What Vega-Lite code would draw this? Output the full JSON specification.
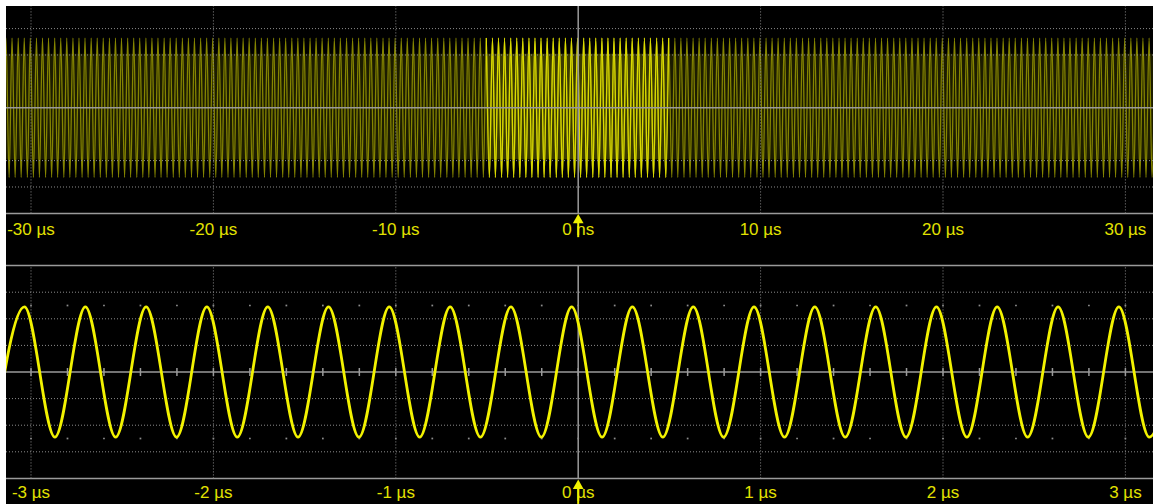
{
"$schema":"https://vega.github.io/schema/vega-lite/v6.json",
"width":1147,"height":498,
"autosize":{"type":"none"},
"padding":{"left":6,"top":6,"right":0,"bottom":0},
"background":"#ffffff",
"config":{"view":{"fill":"#000000","stroke":null}},
"datasets":{
"topw":[{"t":-31.54,"v":-2.64},{"t":-31.37,"v":2.64},{"t":-31.2,"v":-2.64},
{"t":-31.04,"v":2.64},{"t":-30.87,"v":-2.64},{"t":-30.7,"v":2.64},{"t":-30.54,"v":-2.64},{"t":-30.37,"v":2.64},{"t":-30.2,"v":-2.64},
{"t":-30.04,"v":2.64},{"t":-29.87,"v":-2.64},{"t":-29.7,"v":2.64},{"t":-29.54,"v":-2.64},{"t":-29.37,"v":2.64},{"t":-29.2,"v":-2.64},
{"t":-29.04,"v":2.64},{"t":-28.87,"v":-2.64},{"t":-28.7,"v":2.64},{"t":-28.54,"v":-2.64},{"t":-28.37,"v":2.64},{"t":-28.2,"v":-2.64},
{"t":-28.04,"v":2.64},{"t":-27.87,"v":-2.64},{"t":-27.7,"v":2.64},{"t":-27.54,"v":-2.64},{"t":-27.37,"v":2.64},{"t":-27.2,"v":-2.64},
{"t":-27.04,"v":2.64},{"t":-26.87,"v":-2.64},{"t":-26.7,"v":2.64},{"t":-26.54,"v":-2.64},{"t":-26.37,"v":2.64},{"t":-26.2,"v":-2.64},
{"t":-26.04,"v":2.64},{"t":-25.87,"v":-2.64},{"t":-25.7,"v":2.64},{"t":-25.54,"v":-2.64},{"t":-25.37,"v":2.64},{"t":-25.2,"v":-2.64},
{"t":-25.04,"v":2.64},{"t":-24.87,"v":-2.64},{"t":-24.7,"v":2.64},{"t":-24.54,"v":-2.64},{"t":-24.37,"v":2.64},{"t":-24.2,"v":-2.64},
{"t":-24.04,"v":2.64},{"t":-23.87,"v":-2.64},{"t":-23.7,"v":2.64},{"t":-23.54,"v":-2.64},{"t":-23.37,"v":2.64},{"t":-23.2,"v":-2.64},
{"t":-23.04,"v":2.64},{"t":-22.87,"v":-2.64},{"t":-22.7,"v":2.64},{"t":-22.54,"v":-2.64},{"t":-22.37,"v":2.64},{"t":-22.2,"v":-2.64},
{"t":-22.04,"v":2.64},{"t":-21.87,"v":-2.64},{"t":-21.7,"v":2.64},{"t":-21.54,"v":-2.64},{"t":-21.37,"v":2.64},{"t":-21.2,"v":-2.64},
{"t":-21.04,"v":2.64},{"t":-20.87,"v":-2.64},{"t":-20.7,"v":2.64},{"t":-20.54,"v":-2.64},{"t":-20.37,"v":2.64},{"t":-20.2,"v":-2.64},
{"t":-20.04,"v":2.64},{"t":-19.87,"v":-2.64},{"t":-19.7,"v":2.64},{"t":-19.54,"v":-2.64},{"t":-19.37,"v":2.64},{"t":-19.2,"v":-2.64},
{"t":-19.04,"v":2.64},{"t":-18.87,"v":-2.64},{"t":-18.7,"v":2.64},{"t":-18.54,"v":-2.64},{"t":-18.37,"v":2.64},{"t":-18.2,"v":-2.64},
{"t":-18.04,"v":2.64},{"t":-17.87,"v":-2.64},{"t":-17.7,"v":2.64},{"t":-17.54,"v":-2.64},{"t":-17.37,"v":2.64},{"t":-17.2,"v":-2.64},
{"t":-17.04,"v":2.64},{"t":-16.87,"v":-2.64},{"t":-16.7,"v":2.64},{"t":-16.54,"v":-2.64},{"t":-16.37,"v":2.64},{"t":-16.2,"v":-2.64},
{"t":-16.04,"v":2.64},{"t":-15.87,"v":-2.64},{"t":-15.7,"v":2.64},{"t":-15.54,"v":-2.64},{"t":-15.37,"v":2.64},{"t":-15.2,"v":-2.64},
{"t":-15.04,"v":2.64},{"t":-14.87,"v":-2.64},{"t":-14.7,"v":2.64},{"t":-14.54,"v":-2.64},{"t":-14.37,"v":2.64},{"t":-14.2,"v":-2.64},
{"t":-14.04,"v":2.64},{"t":-13.87,"v":-2.64},{"t":-13.7,"v":2.64},{"t":-13.54,"v":-2.64},{"t":-13.37,"v":2.64},{"t":-13.2,"v":-2.64},
{"t":-13.04,"v":2.64},{"t":-12.87,"v":-2.64},{"t":-12.7,"v":2.64},{"t":-12.54,"v":-2.64},{"t":-12.37,"v":2.64},{"t":-12.2,"v":-2.64},
{"t":-12.04,"v":2.64},{"t":-11.87,"v":-2.64},{"t":-11.7,"v":2.64},{"t":-11.54,"v":-2.64},{"t":-11.37,"v":2.64},{"t":-11.2,"v":-2.64},
{"t":-11.04,"v":2.64},{"t":-10.87,"v":-2.64},{"t":-10.7,"v":2.64},{"t":-10.54,"v":-2.64},{"t":-10.37,"v":2.64},{"t":-10.2,"v":-2.64},
{"t":-10.04,"v":2.64},{"t":-9.87,"v":-2.64},{"t":-9.7,"v":2.64},{"t":-9.54,"v":-2.64},{"t":-9.37,"v":2.64},{"t":-9.2,"v":-2.64},
{"t":-9.04,"v":2.64},{"t":-8.87,"v":-2.64},{"t":-8.7,"v":2.64},{"t":-8.54,"v":-2.64},{"t":-8.37,"v":2.64},{"t":-8.2,"v":-2.64},
{"t":-8.04,"v":2.64},{"t":-7.87,"v":-2.64},{"t":-7.7,"v":2.64},{"t":-7.54,"v":-2.64},{"t":-7.37,"v":2.64},{"t":-7.2,"v":-2.64},
{"t":-7.04,"v":2.64},{"t":-6.87,"v":-2.64},{"t":-6.7,"v":2.64},{"t":-6.54,"v":-2.64},{"t":-6.37,"v":2.64},{"t":-6.2,"v":-2.64},
{"t":-6.04,"v":2.64},{"t":-5.87,"v":-2.64},{"t":-5.7,"v":2.64},{"t":-5.54,"v":-2.64},{"t":-5.37,"v":2.64},{"t":-5.2,"v":-2.64},
{"t":-5.04,"v":2.64},{"t":-4.87,"v":-2.64},{"t":-4.7,"v":2.64},{"t":-4.54,"v":-2.64},{"t":-4.37,"v":2.64},{"t":-4.2,"v":-2.64},
{"t":-4.04,"v":2.64},{"t":-3.87,"v":-2.64},{"t":-3.7,"v":2.64},{"t":-3.54,"v":-2.64},{"t":-3.37,"v":2.64},{"t":-3.2,"v":-2.64},
{"t":-3.04,"v":2.64},{"t":-2.87,"v":-2.64},{"t":-2.7,"v":2.64},{"t":-2.54,"v":-2.64},{"t":-2.37,"v":2.64},{"t":-2.2,"v":-2.64},
{"t":-2.04,"v":2.64},{"t":-1.87,"v":-2.64},{"t":-1.7,"v":2.64},{"t":-1.54,"v":-2.64},{"t":-1.37,"v":2.64},{"t":-1.2,"v":-2.64},
{"t":-1.04,"v":2.64},{"t":-0.87,"v":-2.64},{"t":-0.7,"v":2.64},{"t":-0.54,"v":-2.64},{"t":-0.37,"v":2.64},{"t":-0.2,"v":-2.64},
{"t":-0.04,"v":2.64},{"t":0.13,"v":-2.64},{"t":0.3,"v":2.64},{"t":0.46,"v":-2.64},{"t":0.63,"v":2.64},{"t":0.8,"v":-2.64},
{"t":0.96,"v":2.64},{"t":1.13,"v":-2.64},{"t":1.3,"v":2.64},{"t":1.46,"v":-2.64},{"t":1.63,"v":2.64},{"t":1.8,"v":-2.64},
{"t":1.96,"v":2.64},{"t":2.13,"v":-2.64},{"t":2.3,"v":2.64},{"t":2.46,"v":-2.64},{"t":2.63,"v":2.64},{"t":2.8,"v":-2.64},
{"t":2.96,"v":2.64},{"t":3.13,"v":-2.64},{"t":3.3,"v":2.64},{"t":3.46,"v":-2.64},{"t":3.63,"v":2.64},{"t":3.8,"v":-2.64},
{"t":3.96,"v":2.64},{"t":4.13,"v":-2.64},{"t":4.3,"v":2.64},{"t":4.46,"v":-2.64},{"t":4.63,"v":2.64},{"t":4.8,"v":-2.64},
{"t":4.96,"v":2.64},{"t":5.13,"v":-2.64},{"t":5.3,"v":2.64},{"t":5.46,"v":-2.64},{"t":5.63,"v":2.64},{"t":5.8,"v":-2.64},
{"t":5.96,"v":2.64},{"t":6.13,"v":-2.64},{"t":6.3,"v":2.64},{"t":6.46,"v":-2.64},{"t":6.63,"v":2.64},{"t":6.8,"v":-2.64},
{"t":6.96,"v":2.64},{"t":7.13,"v":-2.64},{"t":7.3,"v":2.64},{"t":7.46,"v":-2.64},{"t":7.63,"v":2.64},{"t":7.8,"v":-2.64},
{"t":7.96,"v":2.64},{"t":8.13,"v":-2.64},{"t":8.3,"v":2.64},{"t":8.46,"v":-2.64},{"t":8.63,"v":2.64},{"t":8.8,"v":-2.64},
{"t":8.96,"v":2.64},{"t":9.13,"v":-2.64},{"t":9.3,"v":2.64},{"t":9.46,"v":-2.64},{"t":9.63,"v":2.64},{"t":9.8,"v":-2.64},
{"t":9.96,"v":2.64},{"t":10.13,"v":-2.64},{"t":10.3,"v":2.64},{"t":10.46,"v":-2.64},{"t":10.63,"v":2.64},{"t":10.8,"v":-2.64},
{"t":10.96,"v":2.64},{"t":11.13,"v":-2.64},{"t":11.3,"v":2.64},{"t":11.46,"v":-2.64},{"t":11.63,"v":2.64},{"t":11.8,"v":-2.64},
{"t":11.96,"v":2.64},{"t":12.13,"v":-2.64},{"t":12.3,"v":2.64},{"t":12.46,"v":-2.64},{"t":12.63,"v":2.64},{"t":12.8,"v":-2.64},
{"t":12.96,"v":2.64},{"t":13.13,"v":-2.64},{"t":13.3,"v":2.64},{"t":13.46,"v":-2.64},{"t":13.63,"v":2.64},{"t":13.8,"v":-2.64},
{"t":13.96,"v":2.64},{"t":14.13,"v":-2.64},{"t":14.3,"v":2.64},{"t":14.46,"v":-2.64},{"t":14.63,"v":2.64},{"t":14.8,"v":-2.64},
{"t":14.96,"v":2.64},{"t":15.13,"v":-2.64},{"t":15.3,"v":2.64},{"t":15.46,"v":-2.64},{"t":15.63,"v":2.64},{"t":15.8,"v":-2.64},
{"t":15.96,"v":2.64},{"t":16.13,"v":-2.64},{"t":16.3,"v":2.64},{"t":16.46,"v":-2.64},{"t":16.63,"v":2.64},{"t":16.8,"v":-2.64},
{"t":16.96,"v":2.64},{"t":17.13,"v":-2.64},{"t":17.3,"v":2.64},{"t":17.46,"v":-2.64},{"t":17.63,"v":2.64},{"t":17.8,"v":-2.64},
{"t":17.96,"v":2.64},{"t":18.13,"v":-2.64},{"t":18.3,"v":2.64},{"t":18.46,"v":-2.64},{"t":18.63,"v":2.64},{"t":18.8,"v":-2.64},
{"t":18.96,"v":2.64},{"t":19.13,"v":-2.64},{"t":19.3,"v":2.64},{"t":19.46,"v":-2.64},{"t":19.63,"v":2.64},{"t":19.8,"v":-2.64},
{"t":19.96,"v":2.64},{"t":20.13,"v":-2.64},{"t":20.3,"v":2.64},{"t":20.46,"v":-2.64},{"t":20.63,"v":2.64},{"t":20.8,"v":-2.64},
{"t":20.96,"v":2.64},{"t":21.13,"v":-2.64},{"t":21.3,"v":2.64},{"t":21.46,"v":-2.64},{"t":21.63,"v":2.64},{"t":21.8,"v":-2.64},
{"t":21.96,"v":2.64},{"t":22.13,"v":-2.64},{"t":22.3,"v":2.64},{"t":22.46,"v":-2.64},{"t":22.63,"v":2.64},{"t":22.8,"v":-2.64},
{"t":22.96,"v":2.64},{"t":23.13,"v":-2.64},{"t":23.3,"v":2.64},{"t":23.46,"v":-2.64},{"t":23.63,"v":2.64},{"t":23.8,"v":-2.64},
{"t":23.96,"v":2.64},{"t":24.13,"v":-2.64},{"t":24.3,"v":2.64},{"t":24.46,"v":-2.64},{"t":24.63,"v":2.64},{"t":24.8,"v":-2.64},
{"t":24.96,"v":2.64},{"t":25.13,"v":-2.64},{"t":25.3,"v":2.64},{"t":25.46,"v":-2.64},{"t":25.63,"v":2.64},{"t":25.8,"v":-2.64},
{"t":25.96,"v":2.64},{"t":26.13,"v":-2.64},{"t":26.3,"v":2.64},{"t":26.46,"v":-2.64},{"t":26.63,"v":2.64},{"t":26.8,"v":-2.64},
{"t":26.96,"v":2.64},{"t":27.13,"v":-2.64},{"t":27.3,"v":2.64},{"t":27.46,"v":-2.64},{"t":27.63,"v":2.64},{"t":27.8,"v":-2.64},
{"t":27.96,"v":2.64},{"t":28.13,"v":-2.64},{"t":28.3,"v":2.64},{"t":28.46,"v":-2.64},{"t":28.63,"v":2.64},{"t":28.8,"v":-2.64},
{"t":28.96,"v":2.64},{"t":29.13,"v":-2.64},{"t":29.3,"v":2.64},{"t":29.46,"v":-2.64},{"t":29.63,"v":2.64},{"t":29.8,"v":-2.64},
{"t":29.96,"v":2.64},{"t":30.13,"v":-2.64},{"t":30.3,"v":2.64},{"t":30.46,"v":-2.64},{"t":30.63,"v":2.64},{"t":30.8,"v":-2.64},
{"t":30.96,"v":2.64},{"t":31.13,"v":-2.64},{"t":31.3,"v":2.64},{"t":31.46,"v":-2.64},{"t":31.63,"v":2.64}],
"topband":[{"t1":-31.6,"t2":-5.05,"v1":-1.95,"v2":2.05,"z":"dim"},{"t1":-5.05,"t2":4.96,"v1":-1.95,"v2":2.05,"z":"bright"},{"t1":4.96,"t2":31.7,"v1":-1.95,"v2":2.05,"z":"dim"}],
"topx":[{"t":-30,"label":"-30 µs","k":"grid"},{"t":-20,"label":"-20 µs","k":"grid"},{"t":-10,"label":"-10 µs","k":"grid"},{"t":0,"label":"0 ns","k":"axis"},{"t":10,"label":"10 µs","k":"grid"},{"t":20,"label":"20 µs","k":"grid"},{"t":30,"label":"30 µs","k":"grid"}],
"topy":[{"y":3,"k":"grid"},{"y":2,"k":"grid"},{"y":-2,"k":"grid"},{"y":-3,"k":"grid"},{"y":0,"k":"axis"},{"y":-4,"k":"axis"}],
"botw":[{"t":-3.202,"v":-2.45},{"t":-3.036,"v":2.45},{"t":-2.869,"v":-2.45},{"t":-2.702,"v":2.45},{"t":-2.536,"v":-2.45},{"t":-2.369,"v":2.45},{"t":-2.202,"v":-2.45},{"t":-2.036,"v":2.45},{"t":-1.869,"v":-2.45},{"t":-1.702,"v":2.45},{"t":-1.536,"v":-2.45},{"t":-1.369,"v":2.45},{"t":-1.202,"v":-2.45},{"t":-1.036,"v":2.45},{"t":-0.869,"v":-2.45},{"t":-0.702,"v":2.45},{"t":-0.536,"v":-2.45},{"t":-0.369,"v":2.45},{"t":-0.202,"v":-2.45},{"t":-0.036,"v":2.45},{"t":0.131,"v":-2.45},{"t":0.297,"v":2.45},{"t":0.464,"v":-2.45},{"t":0.631,"v":2.45},{"t":0.797,"v":-2.45},{"t":0.964,"v":2.45},{"t":1.131,"v":-2.45},{"t":1.297,"v":2.45},{"t":1.464,"v":-2.45},{"t":1.631,"v":2.45},{"t":1.797,"v":-2.45},{"t":1.964,"v":2.45},{"t":2.131,"v":-2.45},{"t":2.297,"v":2.45},{"t":2.464,"v":-2.45},{"t":2.631,"v":2.45},{"t":2.797,"v":-2.45},{"t":2.964,"v":2.45},{"t":3.131,"v":-2.45},{"t":3.297,"v":2.45}],
"botx":[{"t":-3,"label":"-3 µs","k":"grid"},{"t":-2,"label":"-2 µs","k":"grid"},{"t":-1,"label":"-1 µs","k":"grid"},{"t":0,"label":"0 µs","k":"axis"},{"t":1,"label":"1 µs","k":"grid"},{"t":2,"label":"2 µs","k":"grid"},{"t":3,"label":"3 µs","k":"grid"}],
"boty":[{"y":3,"k":"grid"},{"y":2,"k":"grid"},{"y":1,"k":"grid"},{"y":-1,"k":"grid"},{"y":-2,"k":"grid"},{"y":-3,"k":"grid"},{"y":0,"k":"axis"},{"y":4,"k":"axis"},{"y":-4,"k":"axis"}],
"botm":[{"t":-3},{"t":-2.8},{"t":-2.6},{"t":-2.4},{"t":-2.2},{"t":-2},{"t":-1.8},{"t":-1.6},{"t":-1.4},{"t":-1.2},{"t":-1},{"t":-0.8},{"t":-0.6},{"t":-0.4},{"t":-0.2},{"t":0},{"t":0.2},{"t":0.4},{"t":0.6},{"t":0.8},{"t":1},{"t":1.2},{"t":1.4},{"t":1.6},{"t":1.8},{"t":2},{"t":2.2},{"t":2.4},{"t":2.6},{"t":2.8},{"t":3}]
},
"resolve":{"scale":{"x":"independent","y":"independent"}},
"layer":[
{"layer":[
{"data":{"name":"topband"},"mark":{"type":"rect","clip":true},
 "encoding":{"x":{"field":"t1","type":"quantitative","scale":{"domain":[-31.371,31.513],"nice":false,"zero":false},"axis":null},"x2":{"field":"t2"},
  "y":{"field":"v1","type":"quantitative","scale":{"domain":[-15.008,3.856],"nice":false,"zero":false},"axis":null},"y2":{"field":"v2"},
  "fill":{"field":"z","type":"nominal","scale":{"domain":["dim","bright"],"range":["#1c1c00","#3a3a00"]},"legend":null}}},
{"data":{"name":"topw"},"mark":{"type":"line","interpolate":"monotone","stroke":"#858500","strokeWidth":1.3,"clip":true},
 "encoding":{"x":{"field":"t","type":"quantitative","scale":{"domain":[-31.371,31.513],"nice":false,"zero":false},"axis":null},
  "y":{"field":"v","type":"quantitative","scale":{"domain":[-15.008,3.856],"nice":false,"zero":false},"axis":null}}},
{"data":{"name":"topw"},"transform":[{"filter":"datum.t > -5.1 && datum.t < 5.0"}],"mark":{"type":"line","interpolate":"monotone","stroke":"#dada00","strokeWidth":1.3,"clip":true},
 "encoding":{"x":{"field":"t","type":"quantitative","scale":{"domain":[-31.371,31.513],"nice":false,"zero":false},"axis":null},
  "y":{"field":"v","type":"quantitative","scale":{"domain":[-15.008,3.856],"nice":false,"zero":false},"axis":null}}},
{"data":{"name":"topy"},"transform":[{"filter":"datum.k == 'grid'"}],"mark":{"type":"rule","stroke":"#8c8c8c","strokeWidth":1,"strokeDash":[1,2]},
 "encoding":{"y":{"field":"y","type":"quantitative","scale":{"domain":[-15.008,3.856],"nice":false,"zero":false},"axis":null}}},
{"data":{"name":"topy"},"transform":[{"filter":"datum.k == 'axis'"}],"mark":{"type":"rule","stroke":"#9a9a9a","strokeWidth":1.5},
 "encoding":{"y":{"field":"y","type":"quantitative","scale":{"domain":[-15.008,3.856],"nice":false,"zero":false},"axis":null}}},
{"data":{"name":"topx"},"transform":[{"filter":"datum.k == 'grid'"}],"mark":{"type":"rule","stroke":"#8c8c8c","strokeWidth":1,"strokeDash":[1,2]},
 "encoding":{"x":{"field":"t","type":"quantitative","scale":{"domain":[-31.371,31.513],"nice":false,"zero":false},"axis":null},
  "y":{"datum":-4,"type":"quantitative","scale":{"domain":[-15.008,3.856],"nice":false,"zero":false},"axis":null},"y2":{"datum":3.856}}},
{"data":{"name":"topx"},"transform":[{"filter":"datum.k == 'axis'"}],"mark":{"type":"rule","stroke":"#9a9a9a","strokeWidth":1.5},
 "encoding":{"x":{"field":"t","type":"quantitative","scale":{"domain":[-31.371,31.513],"nice":false,"zero":false},"axis":null},
  "y":{"datum":-4,"type":"quantitative","scale":{"domain":[-15.008,3.856],"nice":false,"zero":false},"axis":null},"y2":{"datum":3.856}}},
{"data":{"name":"topx"},"mark":{"type":"text","font":"Liberation Sans","fontSize":17,"fill":"#e2e200","align":"center","baseline":"middle"},
 "encoding":{"x":{"field":"t","type":"quantitative","scale":{"domain":[-31.371,31.513],"nice":false,"zero":false},"axis":null},
  "y":{"datum":-4.62,"type":"quantitative","scale":{"domain":[-15.008,3.856],"nice":false,"zero":false},"axis":null},"text":{"field":"label"}}},
{"data":{"name":"topx"},"transform":[{"filter":"datum.k == 'axis'"}],"mark":{"type":"rule","stroke":"#f0f000","strokeWidth":2},
 "encoding":{"x":{"field":"t","type":"quantitative","scale":{"domain":[-31.371,31.513],"nice":false,"zero":false},"axis":null},
  "y":{"datum":-4.3,"type":"quantitative","scale":{"domain":[-15.008,3.856],"nice":false,"zero":false},"axis":null},"y2":{"datum":-4.9}}},
{"data":{"name":"topx"},"transform":[{"filter":"datum.k == 'axis'"}],"mark":{"type":"point","shape":"triangle-up","filled":true,"fill":"#f0f000","strokeWidth":0,"size":115,"opacity":1},
 "encoding":{"x":{"field":"t","type":"quantitative","scale":{"domain":[-31.371,31.513],"nice":false,"zero":false},"axis":null},
  "y":{"datum":-4.2,"type":"quantitative","scale":{"domain":[-15.008,3.856],"nice":false,"zero":false},"axis":null}}}
]},
{"layer":[
{"data":{"name":"boty"},"transform":[{"filter":"datum.k == 'grid'"}],"mark":{"type":"rule","stroke":"#8c8c8c","strokeWidth":1,"strokeDash":[1,2]},
 "encoding":{"y":{"field":"y","type":"quantitative","scale":{"domain":[-4.962,13.759],"nice":false,"zero":false},"axis":null}}},
{"data":{"name":"boty"},"transform":[{"filter":"datum.k == 'axis'"}],"mark":{"type":"rule","stroke":"#9a9a9a","strokeWidth":1.5},
 "encoding":{"y":{"field":"y","type":"quantitative","scale":{"domain":[-4.962,13.759],"nice":false,"zero":false},"axis":null}}},
{"data":{"name":"botx"},"transform":[{"filter":"datum.k == 'grid'"}],"mark":{"type":"rule","stroke":"#8c8c8c","strokeWidth":1,"strokeDash":[1,2]},
 "encoding":{"x":{"field":"t","type":"quantitative","scale":{"domain":[-3.1371,3.1513],"nice":false,"zero":false},"axis":null},
  "y":{"datum":-4,"type":"quantitative","scale":{"domain":[-4.962,13.759],"nice":false,"zero":false},"axis":null},"y2":{"datum":4}}},
{"data":{"name":"botx"},"transform":[{"filter":"datum.k == 'axis'"}],"mark":{"type":"rule","stroke":"#9a9a9a","strokeWidth":1.5},
 "encoding":{"x":{"field":"t","type":"quantitative","scale":{"domain":[-3.1371,3.1513],"nice":false,"zero":false},"axis":null},
  "y":{"datum":-4,"type":"quantitative","scale":{"domain":[-4.962,13.759],"nice":false,"zero":false},"axis":null},"y2":{"datum":4}}},
{"data":{"name":"botm"},"mark":{"type":"rule","stroke":"#9a9a9a","strokeWidth":1.5},
 "encoding":{"x":{"field":"t","type":"quantitative","scale":{"domain":[-3.1371,3.1513],"nice":false,"zero":false},"axis":null},
  "y":{"datum":-0.15,"type":"quantitative","scale":{"domain":[-4.962,13.759],"nice":false,"zero":false},"axis":null},"y2":{"datum":0.15}}},
{"data":{"name":"botm"},"mark":{"type":"point","shape":"square","filled":true,"fill":"#8c8c8c","strokeWidth":0,"size":3,"opacity":1},
 "encoding":{"x":{"field":"t","type":"quantitative","scale":{"domain":[-3.1371,3.1513],"nice":false,"zero":false},"axis":null},
  "y":{"datum":2.5,"type":"quantitative","scale":{"domain":[-4.962,13.759],"nice":false,"zero":false},"axis":null}}},
{"data":{"name":"botm"},"mark":{"type":"point","shape":"square","filled":true,"fill":"#8c8c8c","strokeWidth":0,"size":3,"opacity":1},
 "encoding":{"x":{"field":"t","type":"quantitative","scale":{"domain":[-3.1371,3.1513],"nice":false,"zero":false},"axis":null},
  "y":{"datum":-2.5,"type":"quantitative","scale":{"domain":[-4.962,13.759],"nice":false,"zero":false},"axis":null}}},
{"data":{"name":"botw"},"mark":{"type":"line","interpolate":"monotone","stroke":"#f2f200","strokeWidth":2.8,"clip":true},
 "encoding":{"x":{"field":"t","type":"quantitative","scale":{"domain":[-3.1371,3.1513],"nice":false,"zero":false},"axis":null},
  "y":{"field":"v","type":"quantitative","scale":{"domain":[-4.962,13.759],"nice":false,"zero":false},"axis":null}}},
{"data":{"name":"botx"},"mark":{"type":"text","font":"Liberation Sans","fontSize":17,"fill":"#e2e200","align":"center","baseline":"middle"},
 "encoding":{"x":{"field":"t","type":"quantitative","scale":{"domain":[-3.1371,3.1513],"nice":false,"zero":false},"axis":null},
  "y":{"datum":-4.55,"type":"quantitative","scale":{"domain":[-4.962,13.759],"nice":false,"zero":false},"axis":null},"text":{"field":"label"}}},
{"data":{"name":"botx"},"transform":[{"filter":"datum.k == 'axis'"}],"mark":{"type":"rule","stroke":"#f0f000","strokeWidth":2},
 "encoding":{"x":{"field":"t","type":"quantitative","scale":{"domain":[-3.1371,3.1513],"nice":false,"zero":false},"axis":null},
  "y":{"datum":-4.36,"type":"quantitative","scale":{"domain":[-4.962,13.759],"nice":false,"zero":false},"axis":null},"y2":{"datum":-4.96}}},
{"data":{"name":"botx"},"transform":[{"filter":"datum.k == 'axis'"}],"mark":{"type":"point","shape":"triangle-up","filled":true,"fill":"#f0f000","strokeWidth":0,"size":115,"opacity":1},
 "encoding":{"x":{"field":"t","type":"quantitative","scale":{"domain":[-3.1371,3.1513],"nice":false,"zero":false},"axis":null},
  "y":{"datum":-4.22,"type":"quantitative","scale":{"domain":[-4.962,13.759],"nice":false,"zero":false},"axis":null}}}
]}
]
}
